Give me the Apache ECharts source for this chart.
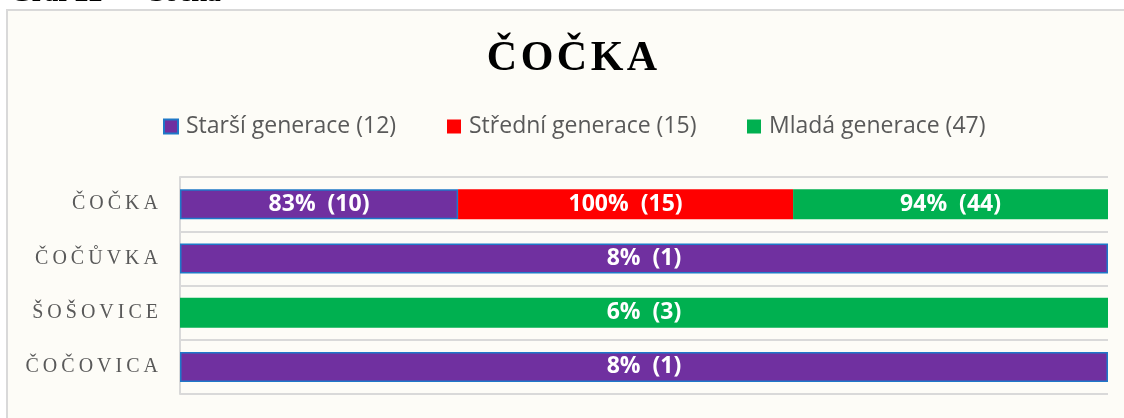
<!DOCTYPE html>
<html>
<head>
<meta charset="utf-8">
<title>Čočka</title>
<script src="https://cdn.jsdelivr.net/npm/echarts@6.0.0/dist/echarts.min.js"></script>
<style>
html, body { margin: 0; padding: 0; background: #fff; overflow: hidden; }
#wrap { position: relative; width: 1124px; height: 418px; overflow: hidden; }
#frame { position: absolute; left: 6px; top: 9px; width: 2000px; height: 1000px;
	background: #FDFCF7; border: 2px solid #D9D9D9; }
#chart { position: absolute; left: 0; top: 0; width: 1124px; height: 418px; }
</style>
</head>
<body>
<div id="wrap">
<div id="frame"></div>
<div id="chart"></div>
</div>
<script>
// kategorie (řádky grafu)
var categories = ['ČOČKA', 'ČOČŮVKA', 'ŠOŠOVICE', 'ČOČOVICA'];
// skupiny respondentů
var generations = ['Starší generace', 'Střední generace', 'Mladá generace'];
var groupSizes = [12, 15, 47];
var colors = ['#7030A0', '#FF0000', '#00B050'];

// procenta v jednotlivých řádcích
var percentStarsi = [83, 8, 0, 8];
var percentStredni = [100, 0, 0, 0];
var percentMlada = [94, 0, 6, 0];
// počty respondentů
var countStarsi = [10, 1, 0, 1];
var countStredni = [15, 0, 0, 0];
var countMlada = [44, 0, 3, 0];

var percents = [percentStarsi, percentStredni, percentMlada];
var counts = [countStarsi, countStredni, countMlada];

var chartDom = document.getElementById('chart');
var myChart = echarts.init(chartDom);

// součet procent v řádku -> 100% skládaný pruh
var rowTotals = categories.map(function(c, i) {
	return percentStarsi[i] + percentStredni[i] + percentMlada[i];
});

var series = generations.map(function(name, g) {
	return {
		name : name + ' (' + groupSizes[g] + ')',
		type : 'bar',
		stack : 'all',
		barWidth : 30,
		itemStyle : {
			color : colors[g],
			borderColor : g === 0 ? '#1F78C8' : 'rgba(0,0,0,0)',
			borderWidth : g === 0 ? 1.5 : 0
		},
		label : {
			show : true,
			position : 'inside',
			color : '#fff',
			fontFamily : 'Open Sans',
			fontWeight : 'bold',
			fontSize : 23,
			formatter : function(p) {
				return percents[g][p.dataIndex] + '%  (' + counts[g][p.dataIndex] + ')';
			}
		},
		data : percents[g].map(function(v, i) {
			return v > 0 ? v / rowTotals[i] : null;
		})
	};
});

var legendLeft = [163, 447, 747];

var option = {
	animation : false,
	graphic : [ {
		type : 'text',
		left : 10,
		top : -20,
		style : {
			text : 'Graf 22  \u2013  Čočka',
			font : 'bold 28px "Liberation Serif"',
			fill : '#000'
		}
	} ],
	title : {
		text : 'Č\u200AO\u200AČ\u200AK\u200AA',
		left : 567,
		top : 33,
		textAlign : 'center',
		textStyle : {
			fontFamily : 'Liberation Serif',
			fontWeight : 'bold',
			fontSize : 42,
			color : '#000'
		}
	},
	legend : series.map(function(s, g) {
		return {
			data : [ s.name ],
			left : legendLeft[g],
			top : 115,
			padding : 0,
			icon : 'rect',
			itemWidth : 14,
			itemHeight : 14,
			itemGap : 0,
			textStyle : {
				fontFamily : 'Open Sans',
				fontSize : 23,
				color : '#595959',
				padding : [ 0, 0, 0, 3 ]
			}
		};
	}),
	grid : {
		left : 180,
		right : 16,
		top : 177,
		bottom : 24,
		containLabel : false
	},
	xAxis : {
		type : 'value',
		min : 0,
		max : 1,
		show : false
	},
	yAxis : {
		type : 'category',
		inverse : true,
		data : categories,
		axisTick : { show : false },
		axisLine : { show : true, lineStyle : { color : '#D9D9D9', width : 2 } },
		splitLine : { show : true, lineStyle : { color : '#D9D9D9', width : 2 } },
		axisLabel : {
			margin : 22,
			color : '#595959',
			fontFamily : 'Liberation Serif',
			fontSize : 20,
			// proložení písmen úzkými mezerami
			formatter : function(v) {
				return v.split('').join('\u2009');
			}
		}
	},
	series : series
};

myChart.setOption(option);
</script>
</body>
</html>
